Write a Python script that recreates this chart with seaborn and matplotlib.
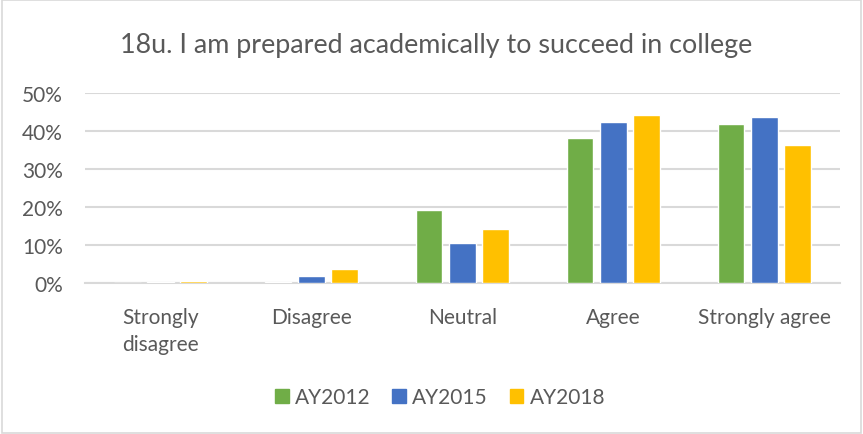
import matplotlib
matplotlib.use("Agg")
import matplotlib.pyplot as plt
import matplotlib.patches as mpatches
import pandas as pd
import seaborn as sns
from matplotlib.ticker import PercentFormatter

# ---------------------------------------------------------------------------
# Data
# ---------------------------------------------------------------------------
CATEGORIES = ["Strongly\ndisagree", "Disagree", "Neutral", "Agree", "Strongly agree"]
YEARS = ["AY2012", "AY2015", "AY2018"]
AY2012 = [0.000, 0.003, 0.193, 0.381, 0.418]
AY2015 = [0.005, 0.020, 0.105, 0.425, 0.438]
AY2018 = [0.007, 0.037, 0.144, 0.442, 0.364]
COLORS = ["#70AD47", "#4472C4", "#FFC000"]
TITLE = "18u. I am prepared academically to succeed in college"

TEXT = "#595959"
GRID = "#D9D9D9"

rows = []
for year, vals in zip(YEARS, [AY2012, AY2015, AY2018]):
    for cat, v in zip(CATEGORIES, vals):
        rows.append({"category": cat, "year": year, "share": v})
df = pd.DataFrame(rows)

sns.set_theme(style="white")
plt.rcParams["font.family"] = ["Lato", "DejaVu Sans"]

fig = plt.figure(figsize=(8.63, 4.35), dpi=100)
ax = fig.add_axes([0.0985, 0.346, 0.8745, 0.438])

sns.barplot(data=df, x="category", y="share", hue="year", order=CATEGORIES,
            hue_order=YEARS, palette=COLORS, width=0.66, gap=0.2,
            saturation=1, ax=ax, legend=False, errorbar=None, zorder=3)

ax.set_ylim(0, 0.5)
ax.set_xlim(-0.5, len(CATEGORIES) - 0.5)
ax.set_yticks([0, 0.1, 0.2, 0.3, 0.4, 0.5])
ax.yaxis.set_major_formatter(PercentFormatter(1.0, decimals=0))
ax.yaxis.grid(True, color=GRID, linewidth=1.5, zorder=0)
ax.set_axisbelow(True)
for side in ["top", "right", "left"]:
    ax.spines[side].set_visible(False)
ax.spines["bottom"].set_color(GRID)
ax.spines["bottom"].set_linewidth(1.5)
ax.spines["bottom"].set_zorder(1)
ax.set_xlabel("")
ax.set_ylabel("")
ax.tick_params(axis="x", length=0, pad=17, labelsize=15, colors=TEXT)
ax.tick_params(axis="y", length=0, pad=16, labelsize=15, colors=TEXT)
for lbl in ax.get_xticklabels():
    lbl.set_verticalalignment("top")
    lbl.set_linespacing(1.45)

fig.text(0.505, 0.895, TITLE, ha="center", va="center", fontsize=19.4, color=TEXT)

handles = [mpatches.Patch(color=c, label=y) for c, y in zip(COLORS, YEARS)]
fig.legend(handles=handles, loc="center", bbox_to_anchor=(0.51, 0.084), ncol=3,
           frameon=False, fontsize=15, labelcolor=TEXT, handlelength=0.65,
           handleheight=0.65, handletextpad=0.3, columnspacing=1.05)

# light chart-area border
fig.patches.append(mpatches.Rectangle((0.002, 0.003), 0.996, 0.994, transform=fig.transFigure,
                                      fill=False, edgecolor=GRID, linewidth=1.2))

fig.savefig("out.png", dpi=100)
plt.close("all")
